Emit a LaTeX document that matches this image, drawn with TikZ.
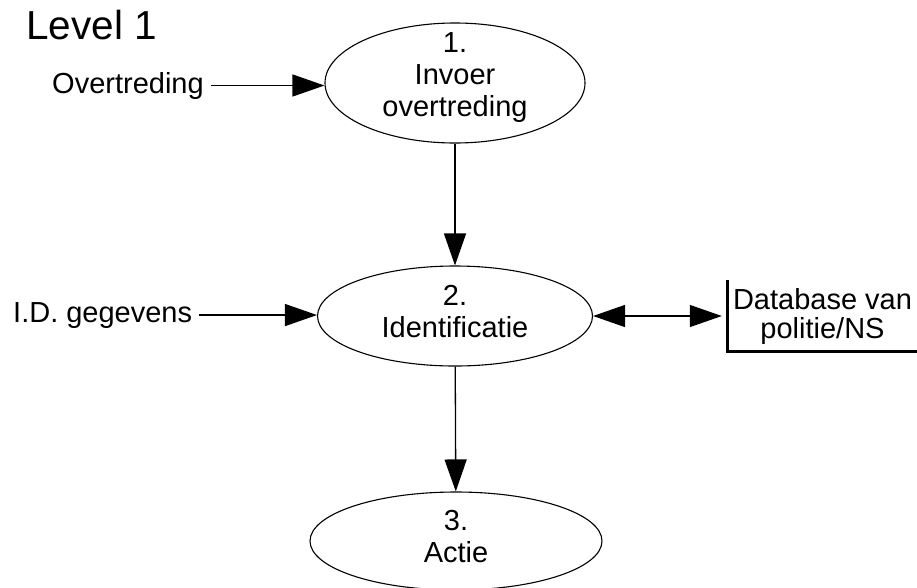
\documentclass[tikz,border=0pt]{standalone}
\usepackage{fontspec}
\setmainfont{Liberation Sans}
\usetikzlibrary{shapes.geometric,arrows.meta}

\begin{document}
\begin{tikzpicture}[x=1pt,y=-1pt,
    proc/.style={draw,ellipse,line width=1.1pt,inner sep=0pt},
    lbl/.style={align=center,inner sep=0pt,font=\fontsize{29pt}{32pt}\selectfont},
    flow/.style={line width=1.3pt,-{Triangle[length=32pt,width=22pt]}}]
    \useasboundingbox (0,0) rectangle (917,587);
    \node[anchor=base west,inner sep=0pt,font=\fontsize{40.5pt}{44pt}\selectfont] (lvl) at (26,39) {Level 1};
    % processes
    \node[proc,minimum width=260pt,minimum height=120pt] (p1) at (455,83) {};
    \node[lbl] (p1t) at ([yshift=5pt]p1.center) {1.\\Invoer\\overtreding};
    \node[proc,minimum width=275pt,minimum height=100pt] (p2) at (455,316) {};
    \node[lbl] (p2t) at ([yshift=4pt]p2.center) {2.\\Identificatie};
    \node[proc,minimum width=292pt,minimum height=98pt] (p3) at (456,541) {};
    \node[lbl] (p3t) at ([yshift=4pt]p3.center) {3.\\Actie};
    % inputs and store
    \node[lbl,anchor=base west] (ot) at (52,93) {Overtreding};
    \node[lbl,anchor=base west] (id) at (13,322) {I.D. gegevens};
    \node[lbl,font=\fontsize{29pt}{29pt}\selectfont,minimum width=189pt,minimum height=71pt] (db) at (822.5,316) {Database van\\politie/NS};
    \draw[line width=3pt] (db.north west) -- (db.south west) -- (db.south east);
    % flows
    \draw[flow,shorten <=7pt] (ot.east) -- (ot.east -| p1.west);
    \draw[flow,shorten <=7pt] (id.east) -- (id.east -| p2.west);
    \draw[flow] (p1) -- (p2);
    \draw[flow] (p2) -- (p3);
    \draw[flow,{Triangle[length=32pt,width=22pt]}-{Triangle[length=32pt,width=22pt]},shorten >=6pt] (p2.east) -- (db.west);
\end{tikzpicture}
\end{document}
